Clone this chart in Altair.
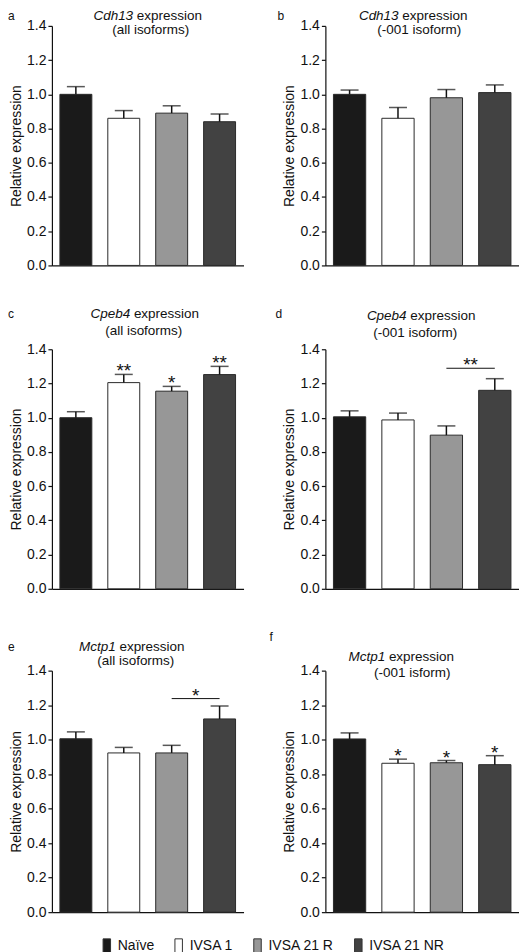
import altair as alt
import pandas as pd

groups = ["Naïve", "IVSA 1", "IVSA 21 R", "IVSA 21 NR"]
fills = ["#1a1a1a", "#ffffff", "#979797", "#424242"]

genes = ["Cdh13", "Cdh13", "Cpeb4", "Cpeb4", "Mctp1", "Mctp1"]
subtitles = ["(all isoforms)", "(-001 isoform)", "(all isoforms)",
             "(-001 isoform)", "(all isoforms)", "(-001 isform)"]
panel_letters = ["a", "b", "c", "d", "e", "f"]

mean_a = [1.00, 0.86, 0.89, 0.84]
sem_a = [0.045, 0.045, 0.043, 0.045]
mean_b = [1.00, 0.86, 0.98, 1.01]
sem_b = [0.025, 0.063, 0.048, 0.045]
mean_c = [1.00, 1.205, 1.155, 1.252]
sem_c = [0.035, 0.048, 0.028, 0.048]
mean_d = [1.005, 0.987, 0.898, 1.16]
sem_d = [0.035, 0.040, 0.054, 0.068]
mean_e = [1.005, 0.923, 0.923, 1.12]
sem_e = [0.040, 0.032, 0.044, 0.075]
mean_f = [1.004, 0.863, 0.866, 0.855]
sem_f = [0.035, 0.024, 0.013, 0.052]

stars_c = ["", "**", "*", "**"]
stars_f = ["", "*", "*", "*"]
no_stars = ["", "", "", ""]

bracket_d = ["IVSA 21 R", "IVSA 21 NR", 1.289, "**"]
bracket_e = ["IVSA 21 R", "IVSA 21 NR", 1.238, "*"]

y_ticks = [0.0, 0.2, 0.4, 0.6, 0.8, 1.0, 1.2, 1.4]

FONT = "Liberation Sans"
AW = {"C": 722, "d": 556, "h": 556, "1": 556, "3": 556, "p": 556, "e": 556,
      "b": 556, "4": 556, "M": 833, "c": 500, "t": 278, " ": 278, "x": 500,
      "r": 333, "s": 500, "i": 222, "o": 556, "n": 556}


def tw(s, size):
    return sum(AW.get(ch, 556) for ch in s) * size / 1000.0


def panel(idx, mean, sem, stars, bracket, width, height, t1, t2, lab):
    df = pd.DataFrame({"group": groups, "mean": mean, "sem": sem, "star": stars})
    df["top"] = df["mean"] + df["sem"]
    base = alt.Chart(df)
    xscale = alt.Scale(domain=groups, paddingInner=1/3, paddingOuter=1/6)
    xaxis = alt.Axis(labels=False, ticks=False, title=None)
    xenc = alt.X("group:N", sort=groups, scale=xscale, axis=xaxis)
    yscale = alt.Scale(domain=[0, 1.4], nice=False)
    yaxis = alt.Axis(values=y_ticks, format=".1f", grid=False)
    ytitle = "Relative expression"

    bars = base.mark_bar(stroke="#2a2a2a", strokeWidth=1).encode(
        x=xenc,
        y=alt.Y("mean:Q", scale=yscale, axis=yaxis, title=ytitle),
        fill=alt.Fill("group:N", sort=groups,
                      scale=alt.Scale(domain=groups, range=fills),
                      legend=alt.Legend(title=None, orient="none", direction="horizontal",
                                        legendX=47, legendY=914,
                                        symbolType="M-0.5,-1L0.5,-1L0.5,1L-0.5,1Z",
                                        symbolSize=225, symbolStrokeColor="#333",
                                        symbolStrokeWidth=1, labelFont=FONT,
                                        labelFontSize=14, labelColor="#111",
                                        columnPadding=16, labelOffset=3)),
    )
    stem = base.mark_rule(color="#111", strokeWidth=1.5).encode(
        x=xenc,
        y=alt.Y("mean:Q", scale=yscale, axis=yaxis, title=ytitle),
        y2="top:Q",
    )
    cap = base.mark_tick(color="#111", thickness=1.5, size=18, orient="horizontal").encode(
        x=xenc,
        y=alt.Y("top:Q", scale=yscale, axis=yaxis, title=ytitle),
    )
    layers = [bars, stem, cap]
    if any(stars):
        st = base.mark_text(font=FONT, fontSize=19, color="#111", baseline="alphabetic",
                            dy=3).encode(
            x=xenc,
            y=alt.Y("top:Q", scale=yscale, axis=yaxis, title=ytitle),
            text="star:N",
        )
        layers.append(st)
    if bracket is not None:
        bdf = pd.DataFrame({"g1": [bracket[0]], "g2": [bracket[1]],
                            "yv": [bracket[2]], "s": [bracket[3]]})
        bch = alt.Chart(bdf)
        brule = bch.mark_rule(color="#111", strokeWidth=1).encode(
            x=alt.X("g1:N", scale=xscale, axis=xaxis),
            x2="g2:N",
            y=alt.Y("yv:Q", scale=yscale, axis=yaxis, title=ytitle),
        )
        btxt = bch.mark_text(font=FONT, fontSize=19, color="#111", baseline="alphabetic",
                             dy=3, dx=width / 8).encode(
            x=alt.X("g1:N", scale=xscale, axis=xaxis),
            y=alt.Y("yv:Q", scale=yscale, axis=yaxis, title=ytitle),
            text="s:N",
        )
        layers += [brule, btxt]

    gene = genes[idx]
    rest = "expression"
    fs = 13.5
    sp = tw(" ", fs)
    total = tw(gene, fs) + sp + tw(rest, fs)
    split = t1[0] - total / 2 + tw(gene, fs)
    tdf = pd.DataFrame({"g": [gene], "r": [rest], "s2": [subtitles[idx]],
                        "l": [panel_letters[idx]]})
    tch = alt.Chart(tdf)
    g_txt = tch.mark_text(font=FONT, fontSize=fs, fontStyle="italic", align="right",
                          baseline="middle", color="#111").encode(
        x=alt.value(split), y=alt.value(t1[1]), text="g:N")
    r_txt = tch.mark_text(font=FONT, fontSize=fs, align="left", baseline="middle",
                          color="#111").encode(
        x=alt.value(split + sp), y=alt.value(t1[1]), text="r:N")
    s_txt = tch.mark_text(font=FONT, fontSize=fs, align="center", baseline="middle",
                          color="#111").encode(
        x=alt.value(t2[0]), y=alt.value(t2[1]), text="s2:N")
    l_txt = tch.mark_text(font=FONT, fontSize=12, align="left", baseline="middle",
                          color="#111").encode(
        x=alt.value(lab[0]), y=alt.value(lab[1]), text="l:N")
    layers += [g_txt, r_txt, s_txt, l_txt]
    return alt.layer(*layers).properties(width=width, height=height)


pa = panel(0, mean_a, sem_a, no_stars, None, 192, 240, (96, -10), (99, 4), (-44, -10))
pb = panel(1, mean_b, sem_b, no_stars, None, 194, 240, (88, -10), (94, 4), (-48, -10))
pc = panel(2, mean_c, sem_c, stars_c, None, 192, 240, (93, -35), (92, -18), (-44, -35))
pd_ = panel(3, mean_d, sem_d, no_stars, bracket_d, 194, 240, (96, -33), (90, -16), (-50, -35))
pe = panel(4, mean_e, sem_e, no_stars, bracket_e, 192, 242, (80, -24), (84, -10), (-44, -24))
pf = panel(5, mean_f, sem_f, stars_f, None, 194, 242, (76, -14), (87, 2), (-56, -34))

row1 = alt.hconcat(pa, pb, spacing=82, bounds="flush")
row2 = alt.hconcat(pc, pd_, spacing=82, bounds="flush")
row3 = alt.hconcat(pe, pf, spacing=82, bounds="flush")

chart = alt.vconcat(row1, row2, row3, spacing=35).resolve_scale(
    fill="shared"
).properties(padding=0).configure_view(stroke=None).configure_axis(
    labelFont=FONT, titleFont=FONT, labelFontSize=14, titleFontSize=14,
    titleFontWeight="normal", labelColor="#111", titleColor="#111",
    domainColor="#111", tickColor="#111", tickSize=4, domainWidth=1.2,
    tickWidth=1.2, labelPadding=2, titlePadding=3
)

chart.save("out.html", embed_options={"renderer": "svg", "actions": False})
